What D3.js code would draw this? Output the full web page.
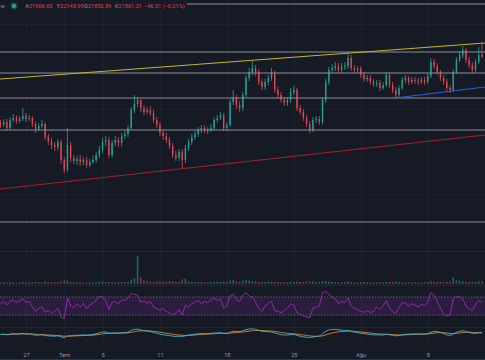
<!DOCTYPE html>
<html><head><meta charset="utf-8">
<script src="https://cdn.jsdelivr.net/npm/d3@7"></script>
<style>html,body{margin:0;padding:0;background:#161a25;overflow:hidden}</style>
</head><body><svg id="c" width="485" height="360"></svg>
<script>
// ---------- DATA ----------
const startTime = "2022-06-24T08:00:00Z";   // first 8h candle
const candleHours = 8;
const firstOpen = 20540;
const closes = [
20500,20560,20440,20600,20640,20580,20620,20680,20620,20640,
20520,20420,20480,20520,20260,20180,20100,20060,20160,19800,
19600,20100,19840,19780,19820,19760,19800,19700,19760,19800,
19900,20000,20160,20200,19900,20140,20200,20140,20280,20320,
20440,20800,20920,21000,20840,20760,20800,20740,20600,20500,
20340,20280,20200,20080,19900,19840,19960,19800,20040,20160,
20260,20320,20400,20440,20400,20400,20440,20600,20640,20700,
20440,20500,20960,21040,20900,20840,21100,21440,21560,21640,
21560,21360,21260,21360,21440,21540,21200,21100,21000,20940,
21000,21160,21200,20840,20760,20640,20520,20400,20600,20620,
20560,21000,21360,21600,21640,21680,21600,21660,21680,21840,
21640,21600,21620,21500,21420,21440,21360,21320,21340,21240,
21300,21500,21300,21200,21100,21240,21400,21440,21360,21400,
21380,21360,21400,21360,21480,21760,21680,21560,21440,21360,
21240,21200,21560,21800,21900,22000,21800,21700,21600,21760,
21906.65,21861.31];
const highs = [
20600,20620,20620,20660,20720,20700,20680,20840,20740,20700,
20680,20580,20540,20600,20560,20320,20240,20160,20220,20200,
19860,20440,20160,19900,19880,19900,19860,19860,19820,19880,
19960,20080,20240,20280,20260,20200,20280,20260,20340,20380,
20500,20860,21100,21060,21020,20900,20860,20880,20800,20660,
20560,20400,20340,20260,20140,19980,20020,20020,20100,20220,
20320,20380,20460,20500,20500,20460,20520,20660,20700,20760,
20740,20560,21020,21200,21100,20980,21160,21500,21640,21780,
21700,21620,21420,21420,21500,21640,21580,21260,21160,21060,
21060,21240,21280,21240,20900,20820,20700,20580,20660,20680,
20680,21060,21420,21660,21720,21760,21740,21740,21760,21940,
21900,21700,21680,21680,21560,21500,21500,21420,21400,21400,
21360,21560,21540,21360,21260,21300,21460,21500,21480,21460,
21460,21440,21460,21460,21540,21840,21820,21740,21600,21500,
21420,21300,21620,21860,21980,22080,22040,21860,21760,21820,
22060,22145.99];
const lows = [
20440,20460,20380,20400,20560,20520,20540,20580,20560,20580,
20460,20340,20380,20440,20200,20100,20020,19980,20000,19720,
19540,19560,19760,19720,19700,19680,19700,19640,19660,19720,
19740,19840,19940,20080,19840,19840,20080,20060,20080,20220,
20260,20400,20740,20860,20760,20700,20720,20680,20540,20440,
20280,20200,20140,20020,19840,19780,19780,19640,19740,19980,
20100,20200,20260,20340,20340,20320,20360,20380,20540,20600,
20380,20380,20460,20900,20820,20760,20780,21060,21380,21500,
21480,21300,21200,21200,21300,21380,21140,21040,20940,20880,
20880,20940,21100,20780,20700,20580,20460,20340,20360,20540,
20500,20520,20940,21300,21540,21580,21540,21540,21600,21620,
21580,21540,21540,21440,21360,21360,21300,21260,21260,21180,
21200,21260,21240,21140,21040,21060,21200,21340,21300,21320,
21320,21300,21320,21300,21320,21440,21620,21500,21380,21300,
21180,21140,21160,21520,21760,21840,21740,21640,21540,21560,
21720,21852.89];
const volumes = [
18,22,15,20,17,14,19,25,16,18,
20,24,17,15,28,22,19,18,16,30,
38,35,22,18,16,20,15,14,18,17,
16,22,25,18,24,20,15,18,22,20,
26,45,60,290,70,40,30,25,22,28,
26,24,22,30,28,22,25,48,55,30,
24,20,18,22,19,17,20,25,22,20,
26,22,38,45,30,26,35,42,38,30,
28,25,22,20,24,26,22,20,18,21,
19,24,20,26,22,20,24,28,30,22,
20,28,32,26,22,19,18,20,17,26,
22,18,16,19,22,18,20,17,16,19,
18,22,20,24,28,20,18,16,19,17,
18,16,17,19,22,30,26,20,22,18,
24,26,70,40,35,28,26,22,20,24,
30,26];
const rsi = [
55,60,52,60,63,58,61,66,57,60,
48,38,44,48,36,40,34,38,45,26,
22,68,50,47,55,48,56,44,52,57,
62,72,70,62,42,58,60,55,64,62,
68,78,76,74,58,62,56,60,48,44,
40,45,38,35,30,34,42,30,52,48,
55,58,62,55,60,58,63,68,62,66,
45,50,72,76,64,60,74,80,72,70,
58,45,38,50,56,60,40,38,35,40,
45,55,52,35,32,28,26,24,45,48,
50,80,82,76,70,66,55,60,58,68,
50,44,42,38,36,40,35,38,48,42,
50,62,45,38,34,46,58,56,50,55,
52,48,54,50,58,80,74,60,45,32,
28,30,66,72,70,66,50,44,40,54,
62,58];
const macd = [
-0.5,-0.3,-0.8,-0.2,0.3,0,0.2,0.6,0,0.1,
-0.6,-1.2,-1,-0.8,-1.5,-1.8,-2,-2.2,-1.8,-2.8,
-3.5,-2,-1.8,-1.6,-1.2,-1.2,-0.9,-1.1,-0.8,-0.5,
0.2,1.2,2,2,0.8,1,1.1,0.8,1.2,1.4,
2,3.6,4.6,4.8,4,3.4,2.8,2.4,1.6,0.8,
-0.2,-0.6,-1.2,-1.6,-2.2,-2.4,-2.2,-2.4,-1.8,-1.2,
-0.6,-0.2,0.2,0.3,0.4,0.4,0.6,1,1.1,1.3,
0.6,0.5,1.8,2.6,2.6,2.4,3.2,4.4,5,5.2,
4.6,3.6,2.8,2.4,2.2,2,1,0.2,-0.6,-1,
-1,-0.6,-0.4,-1.4,-2.2,-2.8,-3.2,-3.6,-3,-2.4,
-2,0.4,2.6,4,4.6,4.6,4.2,3.8,3.4,3.4,
2.6,2,1.4,0.8,0.3,0,-0.5,-0.8,-0.8,-1,
-1,-0.4,-0.8,-1.2,-1.8,-1.6,-0.8,-0.3,-0.2,0,
0,0,0,0,0.3,1.8,2.6,2.4,1.6,0.4,
-0.8,-1.4,0,1.6,2.6,3.2,2.6,1.6,0.8,0.6,
1.2,1.2];
const signal = [
-0.3,-0.3,-0.4,-0.4,-0.2,-0.1,0,0.1,0.1,0.1,
0,-0.3,-0.5,-0.6,-0.8,-1,-1.2,-1.4,-1.5,-1.8,
-2.2,-2.2,-2.1,-2,-1.8,-1.7,-1.5,-1.4,-1.3,-1.1,
-0.8,-0.4,0.1,0.5,0.6,0.7,0.8,0.8,0.9,1,
1.2,1.7,2.3,2.8,3.1,3.2,3.2,3,2.7,2.3,
1.8,1.3,0.8,0.3,-0.2,-0.7,-1,-1.3,-1.4,-1.4,
-1.2,-1,-0.7,-0.5,-0.3,-0.1,0.1,0.3,0.5,0.7,
0.7,0.7,0.9,1.2,1.5,1.7,2,2.4,2.9,3.3,
3.6,3.6,3.5,3.3,3.1,2.9,2.6,2.1,1.6,1.1,
0.7,0.4,0.2,-0.1,-0.5,-1,-1.4,-1.9,-2.2,-2.3,
-2.3,-1.8,-0.9,0.1,1,1.7,2.2,2.6,2.8,3,
2.9,2.7,2.4,2.1,1.7,1.4,1,0.6,0.3,0,
-0.2,-0.3,-0.4,-0.6,-0.8,-1,-1,-0.9,-0.7,-0.5,
-0.4,-0.3,-0.2,-0.1,0,0.4,0.9,1.3,1.5,1.4,
1,0.5,0.4,0.6,1,1.5,1.8,1.8,1.6,1.4,
1.4,1.3];
const tickDates = ["2022-06-27","2022-07-01","2022-07-05","2022-07-11","2022-07-18","2022-07-25","2022-08-01","2022-08-08"];
const tickLabels = ["27","Tem","5","11","18","25","Ağu","8"];
const levelPrices = [22920, 21960, 21540, 21040, 20400, 18560];
const trendNames = ["yellow","red","blue"];
const trendStart = [["2022-06-24T06:45:00Z",21420],["2022-06-24T06:45:00Z",19220],["2022-08-04T14:00:00Z",21040]];
const trendEnd   = [["2022-08-13T23:45:00Z",22140],["2022-08-13T23:45:00Z",20300],["2022-08-13T23:45:00Z",21260]];
const rsiLevels = [70, 30];
const legendLabels = ["A","Y","D","K"];
const legendValues = ["21906.65","22145.99","21852.89","21861.31"];
const legendChange = "\u221246.51 (\u22120.21%)";

// ---------- STYLE / LAYOUT ----------
const W = 485, H = 360;
const BG = "#161a25", GRID = "#1d212c", UP = "#22a393", DOWN = "#e24552";
const trendColors = {yellow:"#c6b42f", red:"#a3232e", blue:"#2b5fd9"};
const svg = d3.select("#c");
svg.append("rect").attr("width",W).attr("height",H).attr("fill",BG);

const x = d3.scaleUtc().domain([new Date("2022-06-24T06:45:00Z"), new Date("2022-08-13T23:45:00Z")]).range([0, W]);
const y = d3.scaleLinear().domain([23000, 18000]).range([0, 250]);
const yV = d3.scaleLinear().domain([0, 300]).range([284, 255]);
const yR = d3.scaleLinear().domain([0, 100]).range([328.5, 283.5]);
const yM = d3.scaleLinear().domain([-10, 10]).range([344, 324]);

const t0 = new Date(startTime).getTime();
const candles = closes.map((c, i) => ({
  t: new Date(t0 + i * candleHours * 3600e3),
  o: i ? closes[i-1] : firstOpen, h: highs[i], l: lows[i], c,
  v: volumes[i], r: rsi[i], m: macd[i], s: signal[i]
}));

// grid
const g = svg.append("g");
g.selectAll(".vg").data(tickDates).join("line")
  .attr("x1", d => Math.round(x(new Date(d))) + 0.5).attr("x2", d => Math.round(x(new Date(d))) + 0.5)
  .attr("y1", 0).attr("y2", 346).attr("stroke", GRID).attr("stroke-width", 1);
const hGrid = [22520, 20820, 19120];
g.selectAll(".hg").data(hGrid).join("line")
  .attr("x1", 0).attr("x2", W).attr("y1", d => Math.round(y(d)) + 0.5).attr("y2", d => Math.round(y(d)) + 0.5)
  .attr("stroke", GRID);
// pane separators
[251, 285, 327].forEach(v => svg.append("line").attr("x1",0).attr("x2",W)
  .attr("y1",v+0.5).attr("y2",v+0.5).attr("stroke","#232733").attr("stroke-width",1));

// main pane clip
svg.append("clipPath").attr("id","mc").append("rect").attr("x",0).attr("y",0).attr("width",W).attr("height",250);
const main = svg.append("g").attr("clip-path","url(#mc)");

// candles
const cw = 1.4;
const cg = main.append("g");
cg.selectAll(".wick").data(candles).join("line")
  .attr("x1", d => x(d.t)).attr("x2", d => x(d.t))
  .attr("y1", d => y(d.h)).attr("y2", d => y(d.l))
  .attr("stroke", d => d.c >= d.o ? UP : DOWN).attr("stroke-width", 0.8);
cg.selectAll(".body").data(candles).join("rect")
  .attr("x", d => x(d.t) - cw/2).attr("width", cw)
  .attr("y", d => y(Math.max(d.o, d.c)))
  .attr("height", d => Math.max(0.8, Math.abs(y(d.o) - y(d.c))))
  .attr("fill", d => d.c >= d.o ? UP : DOWN);

// horizontal levels
main.selectAll(".lvl").data(levelPrices).join("line")
  .attr("x1", 0).attr("x2", W).attr("y1", d => y(d)).attr("y2", d => y(d))
  .attr("stroke", "#8d9099").attr("stroke-width", 1.2);

// trend lines
main.selectAll(".tr").data(trendNames).join("line")
  .attr("x1", (d,i) => x(new Date(trendStart[i][0]))).attr("y1", (d,i) => y(trendStart[i][1]))
  .attr("x2", (d,i) => x(new Date(trendEnd[i][0]))).attr("y2", (d,i) => y(trendEnd[i][1]))
  .attr("stroke", d => trendColors[d]).attr("stroke-width", 1.1);

// volume
svg.append("g").selectAll("rect").data(candles).join("rect")
  .attr("x", d => x(d.t) - 0.8).attr("width", 1.6)
  .attr("y", d => yV(d.v)).attr("height", d => yV(0) - yV(d.v))
  .attr("fill", d => d.c >= d.o ? UP : DOWN).attr("opacity", 0.55);

// RSI
svg.append("rect").attr("x",0).attr("width",W)
  .attr("y", yR(rsiLevels[0])).attr("height", yR(rsiLevels[1]) - yR(rsiLevels[0]))
  .attr("fill", "rgba(130,45,165,0.2)");
svg.selectAll(".rl").data(rsiLevels).join("line")
  .attr("x1",0).attr("x2",W).attr("y1", d => yR(d)).attr("y2", d => yR(d))
  .attr("stroke","#6e6a80").attr("stroke-width",0.8).attr("stroke-dasharray","1.5,1.5");
svg.append("path").datum(candles)
  .attr("d", d3.line().x(d => x(d.t)).y(d => yR(d.r)))
  .attr("fill","none").attr("stroke","#9a2bb2").attr("stroke-width",0.9);

// MACD-style lines
svg.append("path").datum(candles)
  .attr("d", d3.line().curve(d3.curveMonotoneX).x(d => x(d.t)).y(d => yM(d.s)))
  .attr("fill","none").attr("stroke","#d9822b").attr("stroke-width",0.9);
svg.append("path").datum(candles)
  .attr("d", d3.line().curve(d3.curveMonotoneX).x(d => x(d.t)).y(d => yM(d.m)))
  .attr("fill","none").attr("stroke","#3fb8d6").attr("stroke-width",0.9);

// time axis
const ax = svg.append("g").attr("transform","translate(0,352)")
  .call(d3.axisBottom(x).tickValues(tickDates.map(d => new Date(d))).tickFormat((d,i) => tickLabels[i]).tickSize(0));
ax.select(".domain").remove();
ax.selectAll("text").attr("fill","#9598a1").attr("font-family","Roboto, sans-serif").attr("font-size","5.6px").attr("dy","0.35em");
svg.append("line").attr("x1",0).attr("x2",W).attr("y1",359.5).attr("y2",359.5).attr("stroke","#26345c");

// legend
svg.append("rect").attr("x",0).attr("y",0).attr("width",187).attr("height",11).attr("fill",BG);
const lg = svg.append("g").attr("font-family","Roboto, sans-serif").attr("font-size","5.6px");
lg.append("text").attr("x",0.5).attr("y",8).attr("fill","#9598a1").text("w");
lg.append("circle").attr("cx",14).attr("cy",6).attr("r",3.6).attr("fill","#1b4a46");
lg.append("circle").attr("cx",14).attr("cy",6).attr("r",2).attr("fill","#22ab94");
const legX = [25.3, 56.7, 84.3, 115];
legendLabels.forEach((lab, i) => {
  const t = lg.append("text").attr("x", legX[i]).attr("y", 8);
  t.append("tspan").attr("fill","#9598a1").text(lab);
  t.append("tspan").attr("fill","#e0404e").text(legendValues[i]);
});
lg.append("text").attr("x",144).attr("y",8).attr("fill","#e0404e").text(legendChange);
</script></body></html>
